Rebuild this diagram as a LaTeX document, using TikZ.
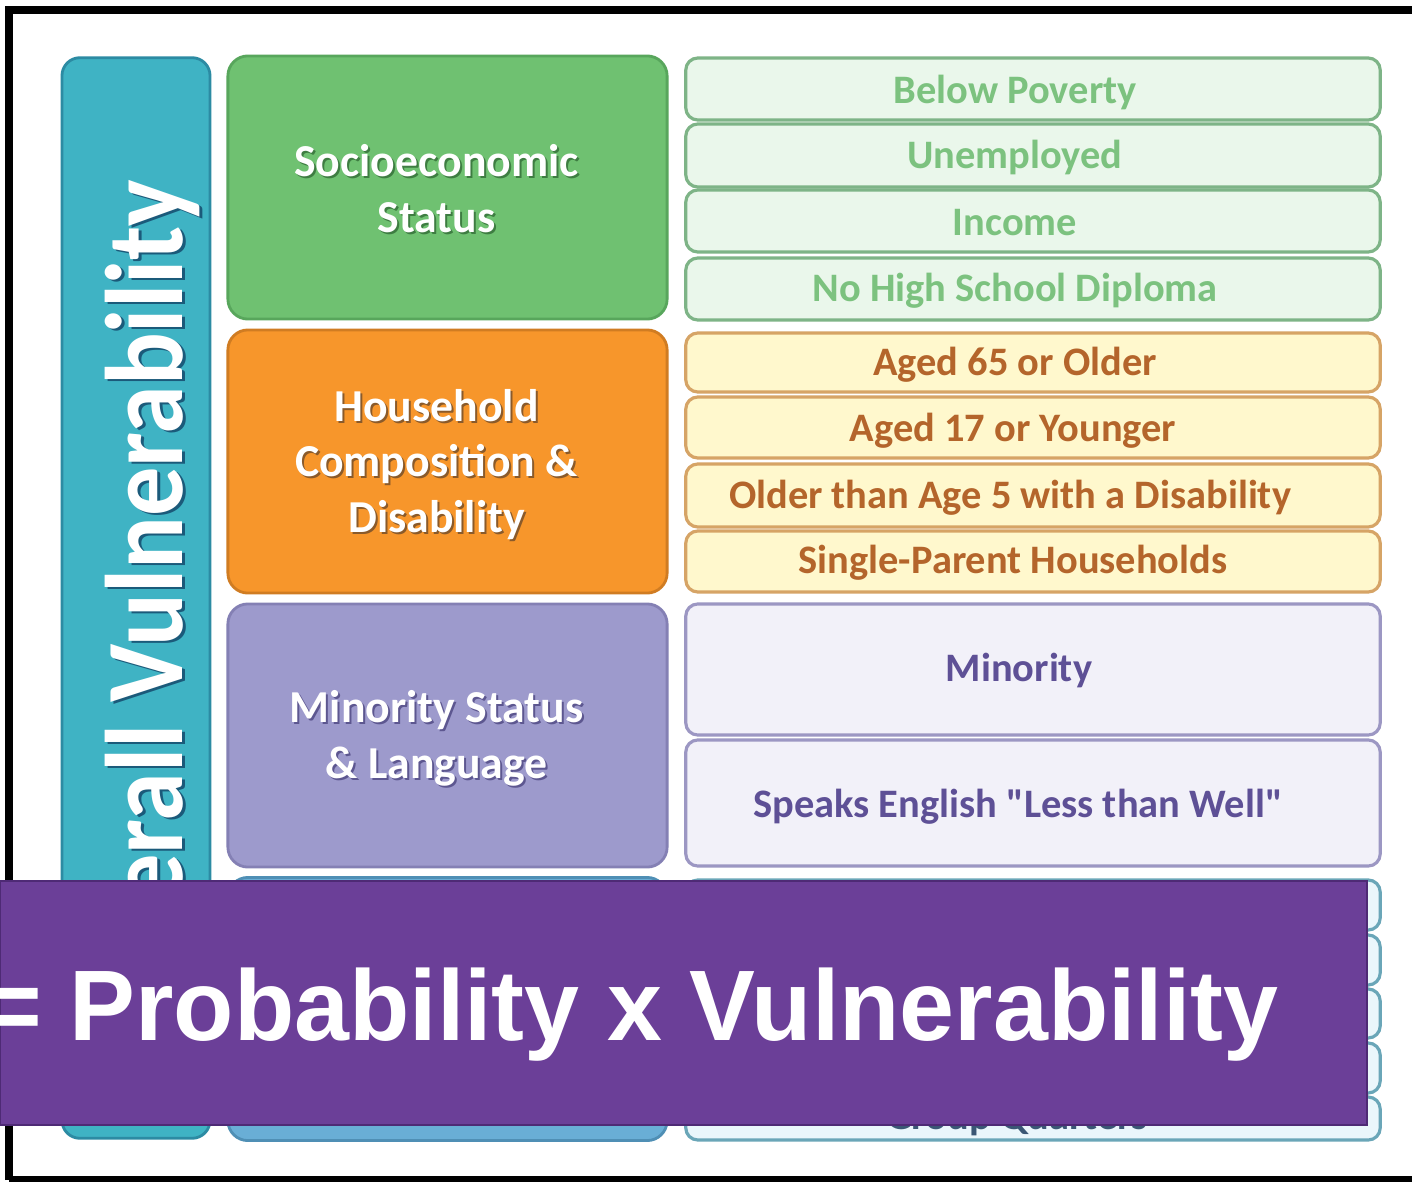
\documentclass[tikz,border=0pt]{standalone}
\usepackage{fontspec}
\usepackage{xcolor}
\usepackage{tikz}
\setmainfont{Carlito}[Ligatures=TeXOff]
\newfontfamily\bannerfont{Liberation Sans}

% theme colours
\definecolor{barblue}{HTML}{3FB3C4}
\definecolor{barline}{HTML}{2C8BA3}
\definecolor{barshade}{HTML}{1B5A7A}
\definecolor{sesgreen}{HTML}{6FC171}
\definecolor{sesline}{HTML}{58A65C}
\definecolor{sesshade}{HTML}{3E7D42}
\definecolor{hhorange}{HTML}{F7962B}
\definecolor{hhline}{HTML}{D07C22}
\definecolor{hhshade}{HTML}{8A5A2A}
\definecolor{minpurple}{HTML}{9D9ACC}
\definecolor{minline}{HTML}{8480B4}
\definecolor{minshade}{HTML}{5D5790}
\definecolor{housblue}{HTML}{69AED6}
\definecolor{housline}{HTML}{4F8FB5}
\definecolor{sesfill}{HTML}{EAF7EB}
\definecolor{sesrule}{HTML}{7EB487}
\definecolor{sestxt}{HTML}{7CC27F}
\definecolor{hhfill}{HTML}{FFF8CD}
\definecolor{hhrule}{HTML}{D6A466}
\definecolor{hhtxt}{HTML}{B4652B}
\definecolor{minfill}{HTML}{F2F1F9}
\definecolor{minrule}{HTML}{9C97C3}
\definecolor{mintxt}{HTML}{5E5096}
\definecolor{housfill}{HTML}{EAF6FB}
\definecolor{housrule}{HTML}{6AA6B8}
\definecolor{houstxt}{HTML}{3A5775}
\definecolor{banner}{HTML}{6B3F98}
\definecolor{bannerline}{HTML}{4E2A75}

\begin{document}
\begin{tikzpicture}[x=0.01cm, y=-0.01cm,
  cat/.style={draw, rounded corners=0.2cm, line width=0.8pt, minimum width=4.39cm, minimum height=2.63cm, inner sep=0pt},
  cattext/.style={align=center, inner sep=0pt, font=\bfseries\fontsize{13}{15.8}\selectfont},
  item/.style={draw, rounded corners=0.12cm, line width=0.9pt, minimum width=6.94cm, inner sep=0pt},
  itemtext/.style={inner sep=0pt, font=\bfseries\fontsize{11.5}{13}\selectfont},
  bartext/.style={rotate=90, yscale=1.12, anchor=base, inner sep=0pt, font=\bfseries\fontsize{28}{30}\selectfont}
]
\useasboundingbox (0,0) rectangle (1412,1182);
\fill[white] (0,0) rectangle (1412,1182);

% Frame
\draw[line width=2.3pt] (9,1180) -- (9,10) -- (1430,10);
\draw[line width=2.3pt] (9,1180) -- (1430,1180);

% Overall bar
\node[draw=barline, fill=barblue, rounded corners=0.18cm, line width=0.8pt, minimum width=1.48cm, minimum height=10.8cm] (overall) at (136,598) {};
\node[bartext, text=barshade] (overall-sh) at (185,600) {Overall Vulnerability};
\node[bartext, text=white] (overall-t) at (182,598) {Overall Vulnerability};

% Themes
\node[cat, fill=sesgreen, draw=sesline] (ses) at (447.5,187.5) {};
\node[cattext, text=sesshade] (ses-sh) at ([shift={(-9,3)}]ses.center) {Socioeconomic\\Status};
\node[cattext, text=white] (ses-t) at ([shift={(-11,1)}]ses.center) {Socioeconomic\\Status};

\node[cat, fill=hhorange, draw=hhline] (hh) at (447.5,461.5) {};
\node[cattext, text=hhshade] (hh-sh) at ([shift={(-9,5)}]hh.center) {Household\\Composition \&\\Disability};
\node[cattext, text=white] (hh-t) at ([shift={(-11,3)}]hh.center) {Household\\Composition \&\\Disability};

\node[cat, fill=minpurple, draw=minline] (mins) at (447.5,735.5) {};
\node[cattext, text=minshade] (mins-sh) at ([shift={(-9,5)}]mins.center) {Minority Status\\\& Language};
\node[cattext, text=white] (mins-t) at ([shift={(-11,3)}]mins.center) {Minority Status\\\& Language};

\node[cat, fill=housblue, draw=housline] (hous) at (447.5,1009) {};

% Socioeconomic variables
\node[item, fill=sesfill, draw=sesrule, minimum height=0.62cm] (poverty) at (1033,89) {};
\node[itemtext, text=sestxt] (poverty-t) at ([shift={(-18,3)}]poverty.center) {Below Poverty};
\node[item, fill=sesfill, draw=sesrule, minimum height=0.63cm] (unemp) at (1033,155.5) {};
\node[itemtext, text=sestxt] (unemp-t) at ([shift={(-18,2)}]unemp.center) {Unemployed};
\node[item, fill=sesfill, draw=sesrule, minimum height=0.62cm] (income) at (1033,221) {};
\node[itemtext, text=sestxt] (income-t) at ([shift={(-18,2)}]income.center) {Income};
\node[item, fill=sesfill, draw=sesrule, minimum height=0.62cm] (diploma) at (1033,289) {};
\node[itemtext, text=sestxt] (diploma-t) at ([shift={(-18,2)}]diploma.center) {No High School Diploma};

% Household variables
\node[item, fill=hhfill, draw=hhrule, minimum height=0.59cm] (age65) at (1033,362.5) {};
\node[itemtext, text=hhtxt] (age65-t) at ([shift={(-18,2)}]age65.center) {Aged 65 or Older};
\node[item, fill=hhfill, draw=hhrule, minimum height=0.61cm] (age17) at (1033,427.5) {};
\node[itemtext, text=hhtxt] (age17-t) at ([shift={(-20,3)}]age17.center) {Aged 17 or Younger};
\node[item, fill=hhfill, draw=hhrule, minimum height=0.63cm] (disab) at (1033,495.5) {};
\node[itemtext, text=hhtxt] (disab-t) at ([shift={(-23,2)}]disab.center) {Older than Age 5 with a Disability};
\node[item, fill=hhfill, draw=hhrule, minimum height=0.61cm] (single) at (1033,561.5) {};
\node[itemtext, text=hhtxt] (single-t) at ([shift={(-20,1)}]single.center) {Single-Parent Households};

% Minority variables
\node[item, fill=minfill, draw=minrule, minimum height=1.31cm] (minority) at (1033,669.5) {};
\node[itemtext, text=mintxt] (minority-t) at ([shift={(-14,1)}]minority.center) {Minority};
\node[item, fill=minfill, draw=minrule, minimum height=1.26cm] (english) at (1033,803) {};
\node[itemtext, text=mintxt] (english-t) at ([shift={(-15,4)}]english.center) {Speaks English "Less than Well"};

% Housing variables
\node[item, fill=housfill, draw=housrule, minimum height=0.50cm] (hous1) at (1033,905) {};
\node[item, fill=housfill, draw=housrule, minimum height=0.50cm] (hous2) at (1033,960) {};
\node[item, fill=housfill, draw=housrule, minimum height=0.49cm] (hous3) at (1033,1013.5) {};
\node[item, fill=housfill, draw=housrule, minimum height=0.50cm] (hous4) at (1033,1068) {};
\node[item, fill=housfill, draw=housrule, minimum height=0.43cm] (groupq) at (1033,1118.5) {};
\node[itemtext, text=houstxt] (groupq-t) at ([shift={(-16,1)}]groupq.center) {Group Quarters};

% Formula banner
\node[fill=banner, draw=bannerline, line width=0.6pt, minimum width=13.67cm, minimum height=2.44cm, inner sep=0pt] (band) at (683.5,1003) {};
\node[anchor=base east, xscale=0.985, inner sep=0pt, text=white, font=\bannerfont\bfseries\fontsize{28.5}{30}\selectfont] (formula) at (1279,1040) {= Probability x Vulnerability};

\end{tikzpicture}
\end{document}
